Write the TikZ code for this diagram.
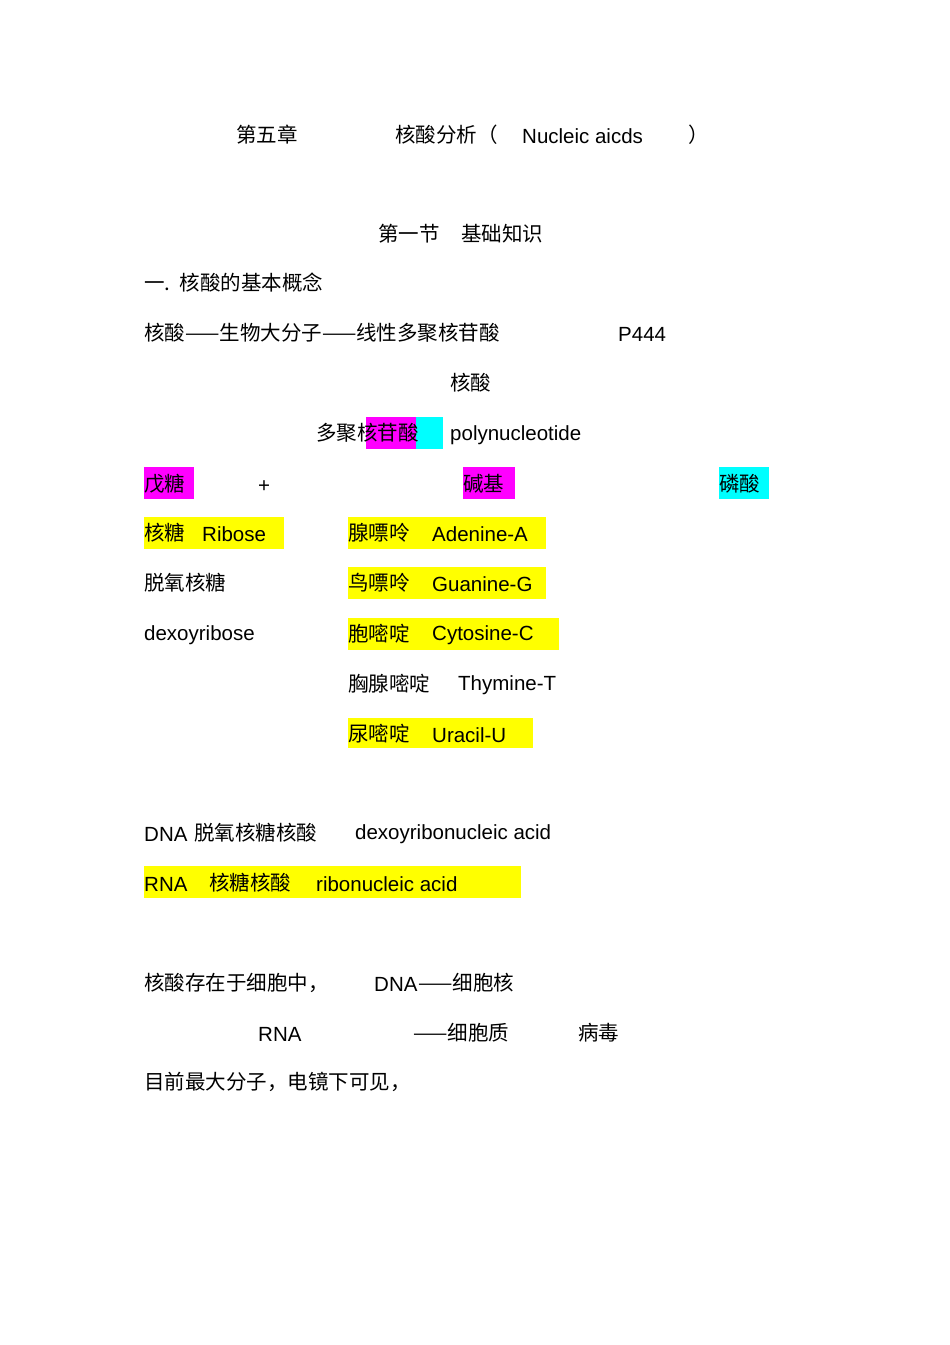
\documentclass[tikz,border=0pt]{standalone}
\usepackage{fontspec}
\setmainfont{Liberation Sans}
\newfontfamily\cjk{Noto Sans CJK SC}
\definecolor{hy}{RGB}{255,255,0}
\definecolor{hm}{RGB}{255,0,255}
\definecolor{hc}{RGB}{0,255,255}
\begin{document}
\begin{tikzpicture}[x=1pt,y=-1pt,
  t/.style={anchor=west,inner sep=0pt,font=\fontsize{20.5}{24}\selectfont},
  c/.style={t,font=\fontsize{20.5}{24}\selectfont\cjk}]
\useasboundingbox[fill=white] (0,0) rectangle (950,1345);
% highlights
\fill[hm] (366,417) rectangle (416,449);
\fill[hc] (416,417) rectangle (443,449);
\fill[hm] (144,467) rectangle (194,499);
\fill[hm] (463,467) rectangle (515,499);
\fill[hc] (719,467) rectangle (769,499);
\fill[hy] (144,517) rectangle (284,549);
\fill[hy] (348,517) rectangle (546,549);
\fill[hy] (348,567) rectangle (546,599);
\fill[hy] (348,618) rectangle (559,650);
\fill[hy] (348,718) rectangle (533,748);
\fill[hy] (144,866) rectangle (521,898);
% text
\node[c] (a1) at (236,135) {第五章};
\node[c] (a2) at (395,135) {核酸分析（};
\node[t] (a3) at (522,136) {Nucleic aicds};
\node[c] (a4) at (688,135) {）};
\node[c] (b1) at (378,234) {第一节};
\node[c] (b2) at (461,234) {基础知识};
\node[c] (c1) at (144,283) {一.\ \ 核酸的基本概念};
\node[c] (d1) at (144,333) {核酸——生物大分子——线性多聚核苷酸};
\node[t] (d2) at (618,334) {P444};
\node[c] (e1) at (450,383) {核酸};
\node[c] (f1) at (316,433) {多聚核苷酸};
\node[t] (f2) at (450,435) {polynucleotide};
\node[c] (g1) at (144,484) {戊糖};
\node[t] (g2) at (258,487) {+};
\node[c] (g3) at (463,484) {碱基};
\node[c] (g4) at (719,484) {磷酸};
\node[c] (h1) at (144,533) {核糖};
\node[t] (h2) at (202,534) {Ribose};
\node[c] (h3) at (348,533) {腺嘌呤};
\node[t] (h4) at (432,534) {Adenine-A};
\node[c] (i1) at (144,583) {脱氧核糖};
\node[c] (i3) at (348,583) {鸟嘌呤};
\node[t] (i4) at (432,584) {Guanine-G};
\node[t] (j1) at (144,635) {dexoyribose};
\node[c] (j3) at (348,634) {胞嘧啶};
\node[t] (j4) at (432,635) {Cytosine-C};
\node[c] (k3) at (348,684) {胸腺嘧啶};
\node[t] (k4) at (458,685) {Thymine-T};
\node[c] (l3) at (348,734) {尿嘧啶};
\node[t] (l4) at (432,735) {Uracil-U};
\node[t] (m1) at (144,834) {DNA};
\node[c] (m2) at (194,833) {脱氧核糖核酸};
\node[t] (m3) at (355,834) {dexoyribonucleic acid};
\node[t] (n1) at (144,884) {RNA};
\node[c] (n2) at (209,883) {核糖核酸};
\node[t] (n3) at (316,884) {ribonucleic acid};
\node[c] (o1) at (144,983) {核酸存在于细胞中，};
\node[t] (o2) at (374,984) {DNA};
\node[c] (o3) at (418,983) {——细胞核};
\node[t] (p1) at (258,1034) {RNA};
\node[c] (p2) at (413,1033) {——细胞质};
\node[c] (p3) at (578,1033) {病毒};
\node[c] (q1) at (144,1082) {目前最大分子，电镜下可见，};
\end{tikzpicture}
\end{document}
